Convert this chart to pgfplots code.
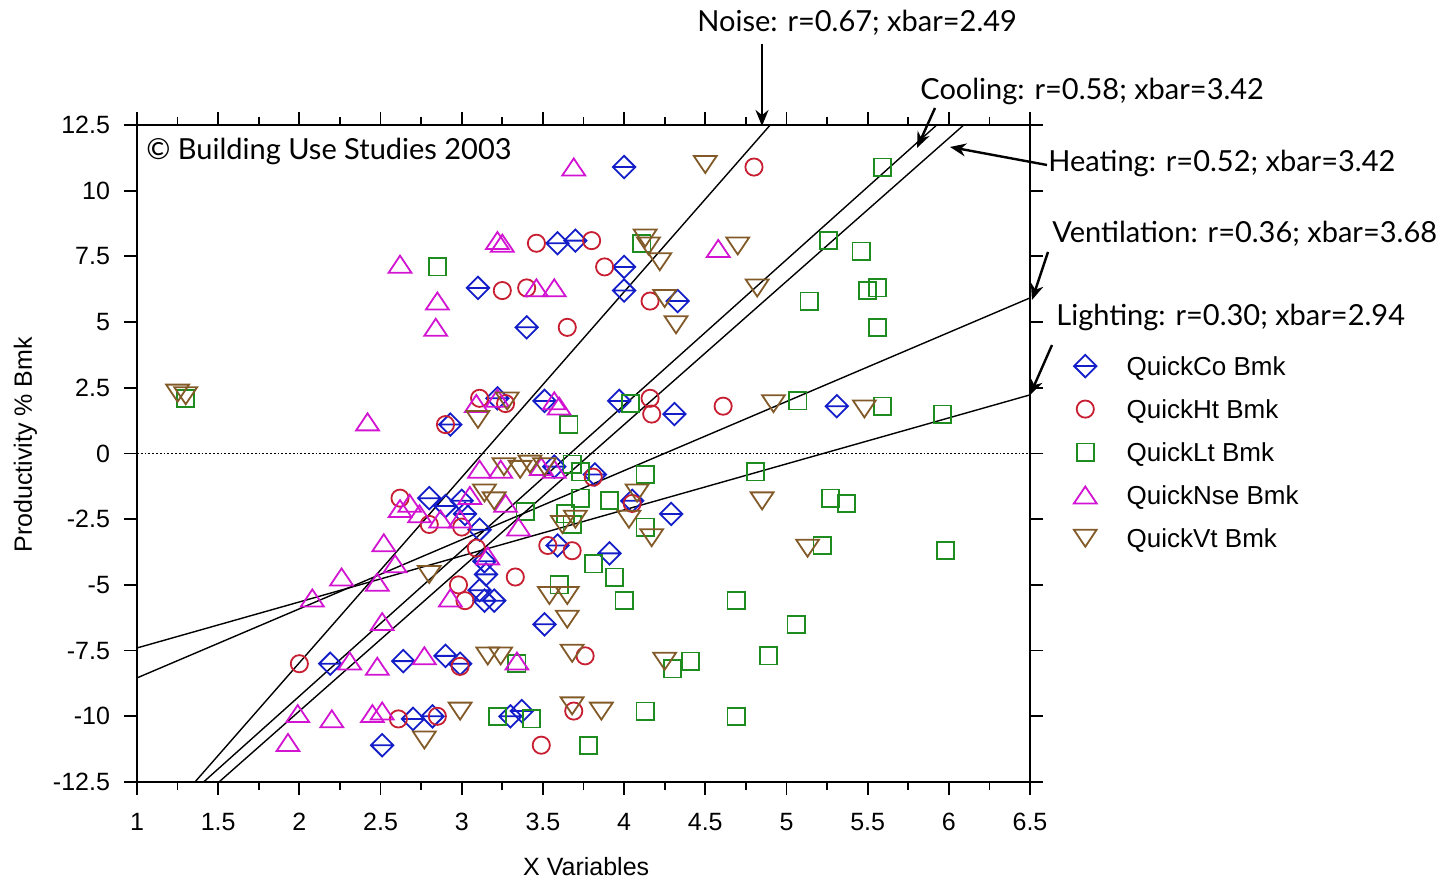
\documentclass[border=0pt]{standalone}
\usepackage{pgfplots}
\pgfplotsset{compat=1.18}
\usetikzlibrary{arrows.meta}
\usepackage{fontspec}
\setmainfont{Liberation Sans}
\newfontfamily\annfont{Lato}

\definecolor{coB}{RGB}{20,30,200}
\definecolor{htR}{RGB}{200,30,50}
\definecolor{ltG}{RGB}{30,140,30}
\definecolor{nsM}{RGB}{210,20,210}
\definecolor{vtB}{RGB}{130,90,40}

% diamond with a bar, up and down triangles
\pgfdeclareplotmark{dbar}{%
  \pgfpathmoveto{\pgfqpoint{0pt}{5.6pt}}%
  \pgfpathlineto{\pgfqpoint{5.6pt}{0pt}}%
  \pgfpathlineto{\pgfqpoint{0pt}{-5.6pt}}%
  \pgfpathlineto{\pgfqpoint{-5.6pt}{0pt}}%
  \pgfpathclose
  \pgfpathmoveto{\pgfqpoint{-5.6pt}{0pt}}%
  \pgfpathlineto{\pgfqpoint{5.6pt}{0pt}}%
  \pgfusepathqstroke}
\pgfdeclareplotmark{tup}{%
  \pgfpathmoveto{\pgfqpoint{0pt}{4.3pt}}%
  \pgfpathlineto{\pgfqpoint{5.7pt}{-4.2pt}}%
  \pgfpathlineto{\pgfqpoint{-5.7pt}{-4.2pt}}%
  \pgfpathclose\pgfusepathqstroke}
\pgfdeclareplotmark{tdn}{%
  \pgfpathmoveto{\pgfqpoint{0pt}{-4.3pt}}%
  \pgfpathlineto{\pgfqpoint{5.7pt}{4.2pt}}%
  \pgfpathlineto{\pgfqpoint{-5.7pt}{4.2pt}}%
  \pgfpathclose\pgfusepathqstroke}

\begin{document}
\begin{tikzpicture}
\path[use as bounding box] (-68.5pt,-50pt) rectangle (652pt,391pt);
\begin{axis}[
  at={(0,0)}, anchor=south west,
  scale only axis, width=446.5pt, height=328.5pt,
  xmin=1, xmax=6.5, ymin=-12.5, ymax=12.5,
  xtick={1,1.5,...,6.5}, ytick={-12.5,-10,...,12.5},
  minor x tick num=1,
  tick align=outside,
  major tick length=6.5pt, minor tick length=4pt,
  axis line style={line width=1pt},
  every tick/.style={black, line width=0.9pt},
  tick label style={font=\fontsize{12.5}{14}\selectfont},
  xticklabel style={yshift=-5.5pt},
  yticklabel style={xshift=-3.5pt},
  /pgf/number format/assume math mode=true,
  xlabel={X Variables}, ylabel={Productivity \% Bmk},
  label style={font=\fontsize{12.5}{14}\selectfont},
  xlabel style={at={(axis description cs:0.503,-0.128)}, anchor=center},
  ylabel style={at={(axis description cs:-0.125,0.513)}, anchor=center},
  legend image code/.code={\draw[#1] plot coordinates {(0pt,1.5pt)};},
  legend style={at={(1.0487,0.6507)}, anchor=north west, draw=none, fill=none,
    font=\fontsize{13}{15}\selectfont, row sep=9pt, inner sep=0pt,
    nodes={text height=9.5pt, text depth=3pt, inner sep=0pt},
    /tikz/every odd column/.append style={column sep=15pt}},
  legend cell align=left,
  clip=true,
]
\addplot[only marks, mark=dbar, coB, line width=0.9pt] coordinates {
(4.00,10.9)(3.59,8.0)(3.70,8.1)(4.00,7.1)(3.10,6.3)(4.00,6.2)(4.33,5.8)(3.40,4.8)
(2.93,1.1)(3.22,2.1)(3.51,2.0)(3.97,2.0)(4.31,1.5)(5.31,1.8)
(3.57,-0.5)(3.82,-0.8)(4.05,-1.8)(4.29,-2.3)
(2.80,-1.7)(2.90,-2.0)(3.00,-1.8)(3.02,-2.3)(3.11,-2.9)(3.14,-4.1)(3.15,-4.6)
(3.11,-5.2)(3.14,-5.6)(3.20,-5.6)(3.51,-6.5)(3.91,-3.8)(3.59,-3.5)
(2.19,-8.0)(2.64,-7.9)(2.90,-7.7)(2.99,-8.0)
(2.51,-11.1)(2.70,-10.1)(2.82,-10.0)(3.30,-10.0)(3.37,-9.8)
};
\addlegendentry{QuickCo Bmk}
\addplot[only marks, mark=o, mark size=4.3pt, htR, line width=0.9pt] coordinates {
(4.80,10.9)(3.46,8.0)(3.80,8.1)(3.88,7.1)(3.25,6.2)(3.40,6.3)(3.65,4.8)(4.16,5.8)
(2.90,1.1)(3.11,2.1)(3.27,1.9)(4.16,2.1)(4.17,1.5)(4.61,1.8)
(3.81,-0.9)(2.62,-1.7)(2.80,-2.7)(3.00,-2.8)(3.09,-3.6)(3.33,-4.7)(2.98,-5.0)
(3.02,-5.6)(3.53,-3.5)(3.68,-3.7)(4.05,-1.9)
(2.00,-8.0)(2.99,-8.1)(3.76,-7.7)(2.61,-10.1)(2.85,-10.0)(3.69,-9.8)(3.49,-11.1)
};
\addlegendentry{QuickHt Bmk}
\addplot[only marks, mark=square, mark size=4.3pt, ltG, line width=0.9pt] coordinates {
(1.30,2.1)(2.85,7.1)(4.11,8.0)(5.59,10.9)(5.26,8.1)(5.46,7.7)(5.14,5.8)(5.50,6.2)
(5.56,6.3)(5.56,4.8)
(3.66,1.1)(4.04,1.9)(5.07,2.0)(5.59,1.8)(5.96,1.5)
(3.68,-0.4)(3.73,-0.7)(4.13,-0.8)(4.81,-0.7)
(3.73,-1.7)(3.91,-1.8)(3.39,-2.2)(3.64,-2.3)(3.68,-2.7)(4.13,-2.8)(5.27,-1.7)
(5.37,-1.9)(5.22,-3.5)(5.98,-3.7)
(3.81,-4.2)(3.94,-4.7)(3.60,-5.0)(4.00,-5.6)(4.69,-5.6)(5.06,-6.5)
(3.34,-8.0)(4.30,-8.2)(4.41,-7.9)(4.89,-7.7)
(3.22,-10.0)(3.43,-10.1)(4.13,-9.8)(4.69,-10.0)(3.78,-11.1)
};
\addlegendentry{QuickLt Bmk}
\addplot[only marks, mark=tup, nsM, line width=0.9pt] coordinates {
(3.69,10.9)(3.22,8.1)(3.25,8.0)(2.62,7.2)(2.85,5.8)(2.84,4.8)(3.46,6.3)(3.57,6.3)
(4.58,7.8)
(2.42,1.2)(3.09,1.9)(3.22,2.1)(3.57,2.0)(3.60,1.8)
(3.11,-0.6)(3.24,-0.6)(3.49,-0.5)(3.57,-0.6)
(2.68,-1.9)(2.74,-2.3)(2.62,-2.1)(2.87,-2.5)(2.99,-2.5)(3.27,-1.9)(3.05,-1.6)
(2.52,-3.4)(2.59,-4.2)(2.26,-4.7)(2.08,-5.5)(2.48,-4.9)(2.51,-6.4)(2.93,-5.5)
(3.16,-3.9)(3.35,-2.8)
(2.31,-7.9)(2.48,-8.1)(2.77,-7.7)(3.34,-7.9)
(1.99,-9.9)(2.20,-10.1)(2.45,-9.9)(2.51,-9.8)(1.93,-11.0)
};
\addlegendentry{QuickNse Bmk}
\addplot[only marks, mark=tdn, vtB, line width=0.9pt] coordinates {
(4.50,11.0)(4.13,8.2)(4.15,7.9)(4.22,7.3)(4.70,7.9)(4.82,6.3)(4.25,5.9)(4.32,4.9)
(1.25,2.3)(1.30,2.2)(3.10,1.3)(3.28,2.0)(4.92,1.9)(5.48,1.7)
(3.26,-0.5)(3.36,-0.6)(3.42,-0.4)(3.51,-0.5)(3.14,-1.5)(3.20,-1.8)
(4.08,-1.5)(4.03,-2.5)(4.17,-3.2)(3.62,-2.7)(3.70,-2.5)(4.85,-1.8)(5.13,-3.6)
(2.80,-4.6)(3.54,-5.4)(3.65,-5.4)(3.65,-6.3)(3.68,-7.6)(4.25,-7.9)(3.16,-7.7)
(3.24,-7.7)
(2.99,-9.8)(2.77,-10.9)(3.68,-9.6)(3.86,-9.8)
};
\addlegendentry{QuickVt Bmk}
% zero line and fitted lines
\addplot[black, line width=0.9pt, densely dotted, forget plot] coordinates {(1,0)(6.5,0)};
\addplot[black, line width=0.7pt, forget plot] coordinates {(1.357,-12.5)(4.90,12.5)};
\addplot[black, line width=0.7pt, forget plot] coordinates {(1.41,-12.5)(5.926,12.5)};
\addplot[black, line width=0.7pt, forget plot] coordinates {(1.505,-12.5)(6.092,12.5)};
\addplot[black, line width=0.7pt, forget plot] coordinates {(1,-8.54)(6.5,5.92)};
\addplot[black, line width=0.7pt, forget plot] coordinates {(1,-7.4)(6.5,2.23)};
\end{axis}

\begin{scope}[x=0.5pt, y=-0.5pt, shift={(-68.5pt,391pt)},
  ann/.style={anchor=west, inner sep=0pt, font=\annfont\fontsize{14.5}{16}\selectfont},
  arr/.style={line width=1.2pt, -{Stealth[length=8pt,width=6.5pt]}}]
\node[ann] at (146,151) {© Building Use Studies 2003};
\node[ann] at (697,23) {Noise: r=0.67; xbar=2.49};
\node[ann] at (920,91) {Cooling: r=0.58; xbar=3.42};
\node[ann] at (1048,163) {Heating: r=0.52; xbar=3.42};
\node[ann] at (1052,234) {Ventilation: r=0.36; xbar=3.68};
\node[ann] at (1056,317) {Lighting: r=0.30; xbar=2.94};
\draw[arr] (762,44) -- (762,126);
\draw[arr] (935,108) -- (917,148);
\draw[arr] (1047,165) -- (950,147);
\draw[arr] (1048,252) -- (1032,300);
\draw[arr] (1052,345) -- (1030,395);
\end{scope}
\end{tikzpicture}
\end{document}
